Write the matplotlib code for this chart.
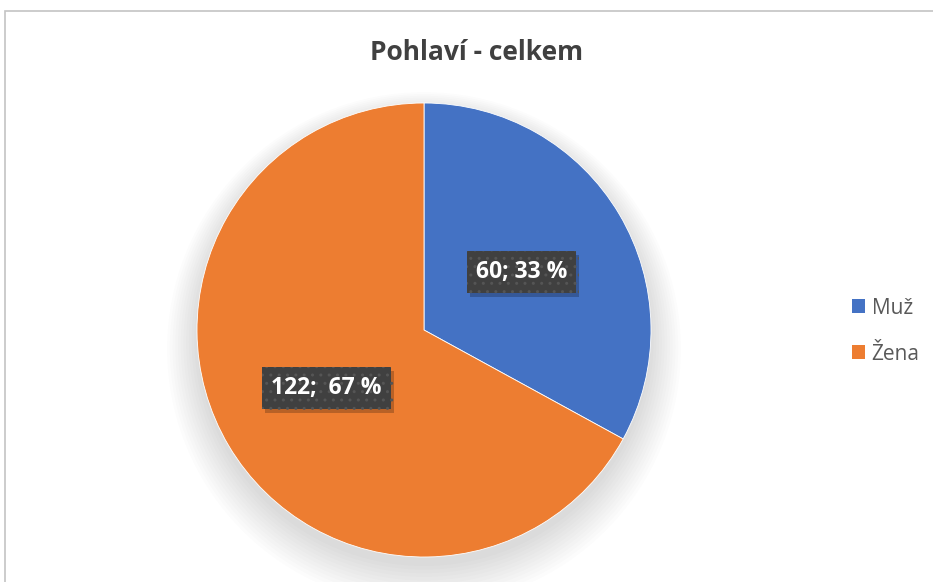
import numpy as np
import matplotlib.pyplot as plt
import matplotlib.patheffects as pe
from matplotlib.patches import Rectangle, Circle, Patch

categories = ['Muž', 'Žena']
values = [60, 122]
labels_txt = ['60; 33 %', '122;  67 %']
colors = ['#4472C4', '#ED7D31']

plt.rcParams['font.family'] = ['Open Sans', 'DejaVu Sans']

fig = plt.figure(figsize=(9.33, 5.82), dpi=100)
fig.patch.set_facecolor('white')

# outer chart frame (cut off at right / bottom like the screenshot)
fig.add_artist(Rectangle((5 / 933, -0.1), 1.2, (582 - 11) / 582 + 0.1,
                         transform=fig.transFigure, fill=False,
                         edgecolor='#c4c4c4', linewidth=1.2))

ax = fig.add_axes([197 / 933, 25 / 582, 454 / 933, 454 / 582])

# soft shadow under the pie
for i in range(12):
    ax.add_patch(Circle((0, -0.04 - i * 0.004), 1.0 + i * 0.012,
                        facecolor='black', alpha=0.012, edgecolor='none',
                        zorder=0, clip_on=False))

wedges, texts = ax.pie(values, colors=colors, startangle=90, counterclock=False,
                       radius=1.0, wedgeprops=dict(edgecolor='white', linewidth=0.6))
for w in wedges:
    w.set_zorder(2)

# data labels at half radius, in the middle of each slice
for w, t in zip(wedges, labels_txt):
    ang = np.deg2rad((w.theta1 + w.theta2) / 2)
    x, y = 0.5 * np.cos(ang), 0.5 * np.sin(ang)
    lab = ax.text(x, y, t, ha='center', va='center', fontsize=16.5,
                  fontweight='bold', color='white', zorder=4,
                  bbox=dict(boxstyle='square,pad=0.4', facecolor='#404040',
                            edgecolor='#555555', linewidth=0, hatch='..'))
    lab.get_bbox_patch().set_path_effects(
        [pe.SimplePatchShadow(offset=(2, -3), shadow_rgbFace='black', alpha=0.22),
         pe.Normal()])

ax.set_xlim(-1, 1)
ax.set_ylim(-1, 1)
ax.set_aspect('equal')
ax.axis('off')

fig.text(477 / 933, 1 - 52 / 582, 'Pohlaví - celkem', ha='center', va='center',
         fontsize=19, fontweight='bold', color='#404040')

handles = [Patch(facecolor=c, edgecolor='none') for c in colors]
fig.legend(handles, categories, loc='center left',
           bbox_to_anchor=(833 / 933, 1 - 331 / 582), frameon=False,
           fontsize=15, handlelength=0.65, handleheight=0.65,
           handletextpad=0.3, labelspacing=1.2, labelcolor='#595959')

fig.savefig('out.png', dpi=100)
